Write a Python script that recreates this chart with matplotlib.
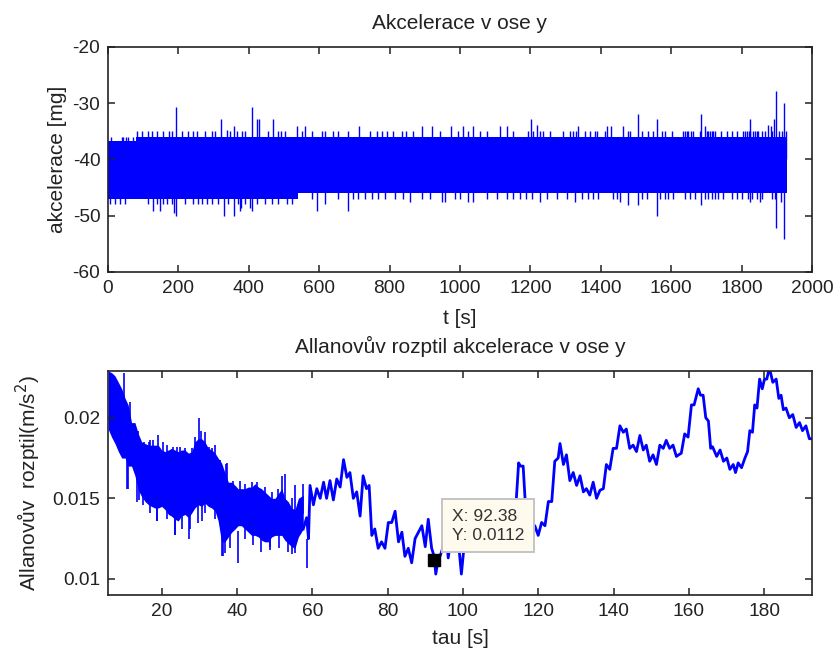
import matplotlib.pyplot as plt

plt.rcParams['font.family'] = ['Liberation Sans', 'DejaVu Sans']
plt.rcParams['axes.unicode_minus'] = False

BLUE = '#0000ff'
INK = '#222222'

# ---------------- akcelerace v ose y [mg] ----------------
# main noise band (piecewise constant envelope)
band_t = [0, 80, 540, 1928]
band_hi = [-36.7, -36.0, -36.0, -36.0]
band_lo = [-47.0, -47.0, -46.0, -46.0]

# one-step quantisation teeth on the band edges
tooth_up_early_t = [10, 39, 44, 50, 58, 72]
tooth_up_early_v = -36.0
tooth_up_t = [82, 96, 115, 124, 138, 157, 174, 181, 209, 228, 242, 254, 276, 295, 304,
              347, 366, 380, 389, 455, 484, 493, 503, 550, 579, 607, 616, 640, 654, 683,
              744, 763, 778, 792, 811, 834, 848, 867, 943, 995, 1024, 1057, 1076, 1152,
              1194, 1208, 1227, 1237, 1256, 1293, 1312, 1322, 1331, 1355, 1369, 1384,
              1389, 1412, 1478, 1483, 1516, 1535, 1549, 1573, 1583, 1601, 1635, 1640,
              1645, 1649, 1655, 1663, 1682, 1701, 1705, 1710, 1715, 1720, 1724, 1743,
              1758, 1772, 1786, 1805, 1810, 1815, 1820, 1825, 1833, 1838, 1843, 1848,
              1857, 1867, 1886, 1905, 1915, 1925]
tooth_up_v = -35.0
tooth_dn_early_t = [6, 20, 34, 48, 115, 138, 157, 167, 181, 219, 242, 266, 280, 295,
                    313, 342, 370, 389, 422, 446, 465, 484, 508, 522]
tooth_dn_early_v = -47.9
tooth_dn_t = [579, 654, 697, 711, 730, 749, 768, 787, 815, 839, 891, 915, 986, 1000,
              1076, 1104, 1133, 1152, 1170, 1189, 1204, 1246, 1275, 1303, 1346, 1365,
              1379, 1393, 1436, 1445, 1516, 1531, 1568, 1583, 1592, 1606, 1639, 1654,
              1668, 1696, 1706, 1715, 1724, 1734, 1748, 1772, 1786, 1800, 1819, 1829,
              1843, 1857, 1886, 1895]
tooth_dn_v = -47.0

# isolated spikes
spike_up_t = [193, 408, 321, 424, 429, 470, 357, 339, 537, 560, 714, 891, 920, 974,
              1009, 1038, 1113, 1133, 1202, 1218, 1336, 1419, 1428, 1464, 1507, 1561,
              1685, 1696, 1824, 1876, 1885, 1892, 1897, 1922]
spike_up_v = [-30.75, -30.75, -32.8, -32.8, -32.8, -32.8, -34.0, -34.8, -34.0, -34.0,
              -34.0, -34.0, -34.0, -34.0, -34.0, -34.0, -34.0, -34.0, -32.8, -33.8,
              -34.0, -34.0, -34.0, -34.0, -31.9, -32.8, -31.9, -34.0, -32.8, -33.9,
              -34.0, -32.8, -27.9, -30.0]
spike_dn_t = [129, 148, 188, 193, 255, 330, 359, 375, 379, 403, 408, 593, 616, 683,
              858, 948, 957, 1024, 1038, 1227, 1327, 1455, 1478, 1507, 1561, 1685,
              1824, 1852, 1897, 1911, 1922]
spike_dn_v = [-49.2, -49.2, -49.5, -50.1, -48.0, -50.1, -50.1, -49.2, -48.6, -48.6,
              -49.2, -49.2, -48.0, -49.2, -47.6, -47.6, -47.6, -47.6, -47.6, -47.6,
              -47.6, -47.6, -48.1, -48.1, -50.1, -48.1, -47.6, -47.6, -52.2, -47.6, -54.1]

t_ticks = [0, 200, 400, 600, 800, 1000, 1200, 1400, 1600, 1800, 2000]
a_ticks = [-60, -50, -40, -30, -20]

# ---------------- Allanuv rozptyl ----------------
# short tau: dense scatter, stored as envelope
tau_n = [5.8, 6.7, 7.6, 8.5, 9.4, 10.3, 11.1, 12.0, 12.9, 13.8, 14.7, 15.6, 16.5, 17.3,
         18.2, 19.1, 20.0, 20.9, 21.8, 22.6, 23.5, 24.4, 25.3, 26.2, 27.1, 28.0, 28.8,
         29.7, 30.6, 31.5, 32.4, 33.3, 34.2, 35.0, 35.9, 36.8, 37.7, 38.6, 39.5, 40.3,
         41.2, 42.1, 43.0, 43.9, 44.8, 45.7, 46.5, 47.4, 48.3, 49.2, 50.1, 51.0, 51.9,
         52.7, 53.6, 54.5, 55.4, 56.3, 57.6]
lo_n = [0.0193, 0.0188, 0.0184, 0.0179, 0.0175, 0.0175, 0.0170, 0.0170, 0.0164, 0.0155,
        0.0151, 0.0148, 0.0146, 0.0145, 0.0144, 0.0144, 0.0145, 0.0143, 0.0140, 0.0139,
        0.0137, 0.0136, 0.0139, 0.0140, 0.0138, 0.0141, 0.0144, 0.0146, 0.0145, 0.0147,
        0.0145, 0.0144, 0.0142, 0.0136, 0.0123, 0.0123, 0.0126, 0.0129, 0.0131, 0.0133,
        0.0133, 0.0131, 0.0129, 0.0127, 0.0127, 0.0126, 0.0124, 0.0123, 0.0123, 0.0126,
        0.0127, 0.0127, 0.0127, 0.0124, 0.0122, 0.0120, 0.0119, 0.0126, 0.0131]
hi_n = [0.0229, 0.0228, 0.0226, 0.0222, 0.0218, 0.0212, 0.0208, 0.0197, 0.0197, 0.0190,
        0.0185, 0.0184, 0.0183, 0.0183, 0.0183, 0.0183, 0.0180, 0.0179, 0.0180, 0.0181,
        0.0180, 0.0179, 0.0180, 0.0180, 0.0178, 0.0179, 0.0185, 0.0187, 0.0187, 0.0185,
        0.0181, 0.0180, 0.0178, 0.0175, 0.0172, 0.0166, 0.0160, 0.0160, 0.0158, 0.0156,
        0.0156, 0.0156, 0.0157, 0.0157, 0.0159, 0.0157, 0.0156, 0.0154, 0.0152, 0.0150,
        0.0150, 0.0153, 0.0156, 0.0150, 0.0148, 0.0144, 0.0143, 0.0150, 0.0152]

# single outliers sticking out of the dense part: tau, from, to
out_tau = [10.0, 10.7, 13.4, 16.9, 18.7, 19.1, 23.1, 23.5, 27.3, 28.8, 29.9, 30.4, 30.6,
           34.1, 35.9, 36.8, 37.3, 40.2, 45.3, 48.8, 52.0, 52.8, 54.7, 55.5, 57.6, 58.5,
           11.6, 13.8, 15.4, 16.7, 17.8, 20.4, 21.3, 24.0, 24.9, 26.2, 28.0, 31.5, 32.6,
           33.3, 35.5, 37.2, 39.0, 40.8, 42.1, 43.9, 47.4, 49.2, 51.0, 54.5,
           11.0, 13.9, 15.1, 17.0, 18.8, 21.4, 23.6, 25.3, 27.5, 29.7, 31.6, 34.2,
           36.4, 38.1, 42.2, 44.3, 46.5, 48.7, 51.1, 53.6, 55.4]
out_from = [0.0195, 0.0156, 0.0148, 0.0170, 0.0136, 0.0170, 0.0165, 0.0127, 0.0125,
            0.0170, 0.0170, 0.0170, 0.0136, 0.0165, 0.01145, 0.0116, 0.0150, 0.0110,
            0.0145, 0.0118, 0.0145, 0.0145, 0.01155, 0.0140, 0.0140, 0.0107,
            0.0190, 0.0175, 0.0170, 0.0170, 0.0170, 0.0170, 0.0170, 0.0170, 0.0170,
            0.0170, 0.0170, 0.0170, 0.0170, 0.0170, 0.0160, 0.0150, 0.0145, 0.0145,
            0.0145, 0.0145, 0.0140, 0.0140, 0.0140, 0.0135,
            0.0156, 0.0149, 0.0146, 0.0141, 0.0136, 0.0137, 0.0127, 0.0131, 0.0131,
            0.0135, 0.0141, 0.0137, 0.01145, 0.0119, 0.0125, 0.0121, 0.0117, 0.0120,
            0.0119, 0.0117, 0.0116]
out_to = [0.02276, 0.0180, 0.0170, 0.0186, 0.0150, 0.0189, 0.0182, 0.0140, 0.0140,
          0.0188, 0.0200, 0.0192, 0.0150, 0.0183, 0.0130, 0.0130, 0.0172, 0.0130,
          0.0160, 0.0130, 0.0164, 0.0165, 0.0125, 0.0158, 0.0159, 0.0125,
          0.0210, 0.0192, 0.0185, 0.0185, 0.0186, 0.0185, 0.0183, 0.0182, 0.0182,
          0.0181, 0.0181, 0.0191, 0.0182, 0.0181, 0.0174, 0.0171, 0.0161, 0.0161,
          0.0159, 0.0160, 0.0157, 0.0154, 0.0156, 0.0150,
          0.0175, 0.0165, 0.0160, 0.0155, 0.0150, 0.0150, 0.0145, 0.0145, 0.0145,
          0.0150, 0.0155, 0.0150, 0.0130, 0.0135, 0.0140, 0.0135, 0.0135, 0.0135,
          0.0135, 0.0135, 0.0135]

# longer tau: single wandering trace, lower / upper edge of its jitter
tau_d = [57.6, 58.5, 59.0, 59.4, 60.3, 61.2, 62.1, 63.0, 63.8, 64.7, 65.6, 66.5, 67.4,
         68.3, 69.2, 70.0, 70.9, 71.8, 72.7, 73.5, 74.4, 75.1, 75.8, 76.6, 77.5, 78.4,
         79.3, 80.2, 81.1, 82.0, 82.9, 83.8, 84.6, 85.5, 86.4, 87.3, 88.2, 89.1, 90.0,
         90.8, 91.7, 92.38, 92.8, 93.3, 94.5, 95.5, 96.1, 97.0, 98.0, 99.0, 99.6, 100.3,
         101.5, 103.0, 105.0, 107.0, 109.0, 110.5, 111.5, 113.0, 114.2, 114.8, 115.3,
         116.0, 116.5, 117.2, 118.3, 119.1, 120.0, 120.9, 121.8, 122.7, 123.6, 124.4,
         125.3, 125.8, 126.7, 127.5, 128.4, 129.3, 130.2, 131.1, 132.0, 132.8, 133.7,
         134.6, 135.5, 136.4, 137.3, 138.1, 139.0, 139.9, 140.8, 141.7, 142.6, 143.4,
         144.3, 145.2, 146.1, 147.0, 147.9, 148.7, 149.6, 150.5, 151.4, 152.3, 153.2,
         154.0, 154.9, 155.8, 156.7, 157.3, 158.0, 158.9, 159.8, 160.7, 161.4, 162.5,
         163.1, 163.8, 164.5, 165.2, 165.8, 166.3, 167.4, 168.3, 169.2, 170.1, 170.9,
         171.8, 172.4, 173.1, 174.0, 174.9, 175.6, 176.2, 176.9, 177.5, 178.1, 178.8,
         179.5, 180.1, 180.7, 181.4, 182.3, 183.2, 183.9, 184.5, 185.1, 185.8, 186.7,
         187.6, 188.5, 189.4, 190.2, 191.1, 192.0, 192.7]
lo_d = [0.0131, 0.0122, 0.0125, 0.0141, 0.0146, 0.0148, 0.0150, 0.0152, 0.0150, 0.0151,
        0.0149, 0.0150, 0.0157, 0.0166, 0.0163, 0.0156, 0.0150, 0.0144, 0.0139, 0.0155,
        0.0156, 0.0143, 0.0127, 0.0121, 0.0119, 0.0112, 0.0119, 0.0128, 0.0135, 0.0129,
        0.0123, 0.0118, 0.0114, 0.0112, 0.0110, 0.0114, 0.0129, 0.0123, 0.0120, 0.0125,
        0.0119, 0.0110, 0.0103, 0.0104, 0.0118, 0.0120, 0.0113, 0.0118, 0.0120, 0.0108,
        0.0103, 0.0110, 0.0120, 0.0125, 0.0122, 0.0125, 0.0120, 0.0114, 0.0120, 0.0130,
        0.0150, 0.0165, 0.0170, 0.0162, 0.0150, 0.0135, 0.0125, 0.0125, 0.0127, 0.0129,
        0.0133, 0.0139, 0.0148, 0.0162, 0.0175, 0.0178, 0.0171, 0.0168, 0.0161, 0.0159,
        0.0158, 0.0157, 0.0154, 0.0150, 0.0152, 0.0154, 0.0150, 0.0150, 0.0156, 0.0164,
        0.0168, 0.0173, 0.0181, 0.0187, 0.0191, 0.0187, 0.0181, 0.0178, 0.0179, 0.0183,
        0.0180, 0.0177, 0.0173, 0.0173, 0.0171, 0.0175, 0.0181, 0.0182, 0.0181, 0.0178,
        0.0176, 0.0171, 0.0178, 0.0184, 0.0188, 0.0198, 0.0208, 0.0212, 0.0214, 0.0208,
        0.0200, 0.0191, 0.0181, 0.0178, 0.0176, 0.0175, 0.0173, 0.0171, 0.0168, 0.0167,
        0.0166, 0.0167, 0.0169, 0.0172, 0.0179, 0.0185, 0.0191, 0.0200, 0.0206, 0.0216,
        0.0218, 0.0218, 0.0224, 0.0227, 0.0222, 0.0218, 0.0212, 0.0208, 0.0205, 0.0202,
        0.0200, 0.0197, 0.0194, 0.0193, 0.0192, 0.0190, 0.0187, 0.0183]
hi_d = [0.0152, 0.0138, 0.0140, 0.0158, 0.0156, 0.0156, 0.0160, 0.0160, 0.0162, 0.0161,
        0.0158, 0.0162, 0.0167, 0.0174, 0.0170, 0.0166, 0.0160, 0.0154, 0.0150, 0.0164,
        0.0167, 0.0158, 0.0139, 0.0131, 0.0127, 0.0123, 0.0127, 0.0135, 0.0149, 0.0142,
        0.0133, 0.0129, 0.0125, 0.0119, 0.0117, 0.0125, 0.0142, 0.0133, 0.0128, 0.0137,
        0.0127, 0.0114, 0.0107, 0.0110, 0.0128, 0.0130, 0.0120, 0.0128, 0.0130, 0.0118,
        0.0110, 0.0120, 0.0130, 0.0135, 0.0132, 0.0135, 0.0130, 0.0120, 0.0128, 0.0140,
        0.0158, 0.0172, 0.0175, 0.0170, 0.0160, 0.0145, 0.0133, 0.0133, 0.0135, 0.0135,
        0.0141, 0.0148, 0.0158, 0.0173, 0.0183, 0.0184, 0.0179, 0.0177, 0.0166, 0.0166,
        0.0164, 0.0164, 0.0160, 0.0156, 0.0158, 0.0160, 0.0156, 0.0155, 0.0164, 0.0171,
        0.0175, 0.0181, 0.0187, 0.0195, 0.0197, 0.0193, 0.0188, 0.0183, 0.0183, 0.0189,
        0.0188, 0.0183, 0.0179, 0.0177, 0.0175, 0.0183, 0.0186, 0.0186, 0.0185, 0.0183,
        0.0180, 0.0177, 0.0184, 0.0190, 0.0195, 0.0208, 0.0216, 0.0218, 0.0219, 0.0214,
        0.0210, 0.0198, 0.0191, 0.0182, 0.0181, 0.0180, 0.0177, 0.0175, 0.0173, 0.0171,
        0.0169, 0.0172, 0.0174, 0.0175, 0.0185, 0.0192, 0.0200, 0.0208, 0.0214, 0.0224,
        0.0228, 0.0224, 0.0229, 0.0231, 0.0229, 0.0224, 0.0220, 0.0214, 0.0210, 0.0206,
        0.0205, 0.0202, 0.0199, 0.0197, 0.0197, 0.0195, 0.0191, 0.0187]

tip_x = 92.38
tip_y = 0.0112

tau_ticks = [20, 40, 60, 80, 100, 120, 140, 160, 180]
s_ticks = [0.01, 0.015, 0.02]
s_labels = ['0.01', '0.015', '0.02']


def style(ax):
    ax.tick_params(direction='in', top=True, right=True, length=5, width=1.1,
                   labelsize=13.8, pad=5.5, colors=INK)
    for sp in ax.spines.values():
        sp.set_linewidth(1.2)
        sp.set_color(INK)


fig = plt.figure(figsize=(8.35, 6.53), dpi=100)

# top: raw acceleration
ax1 = fig.add_axes([0.1293, 0.5835, 0.8431, 0.3446])
ax1.fill_between(band_t, band_lo, band_hi, step='post', color=BLUE, lw=0)
ax1.vlines(tooth_up_early_t, -40, tooth_up_early_v, color=BLUE, lw=1)
ax1.vlines(tooth_up_t, -40, tooth_up_v, color=BLUE, lw=1)
ax1.vlines(tooth_dn_early_t, -40, tooth_dn_early_v, color=BLUE, lw=1)
ax1.vlines(tooth_dn_t, -40, tooth_dn_v, color=BLUE, lw=1)
ax1.vlines(spike_up_t, -40, spike_up_v, color=BLUE, lw=1)
ax1.vlines(spike_dn_t, -40, spike_dn_v, color=BLUE, lw=1)
ax1.set_xlim(0, 2000)
ax1.set_ylim(-60, -20)
ax1.set_xticks(t_ticks)
ax1.set_yticks(a_ticks)
style(ax1)
ax1.set_title('Akcelerace v ose y', fontsize=15, color=INK, pad=13)
ax1.set_xlabel('t [s]', fontsize=15, color=INK, labelpad=9)
ax1.set_ylabel('akcelerace [mg]', fontsize=15, color=INK, labelpad=4)

# bottom: Allan variance
ax2 = fig.add_axes([0.1293, 0.0888, 0.8431, 0.343])
ax2.fill_between(tau_n, lo_n, hi_n, color=BLUE, lw=0)
ax2.vlines(out_tau, out_from, out_to, color=BLUE, lw=1.2)
# jitter of the long-tau trace: alternate between lower and upper edge
zig_d = [lo if i % 2 == 0 else hi for i, (lo, hi) in enumerate(zip(lo_d, hi_d))]
ax2.plot(tau_d, zig_d, color=BLUE, lw=2.0)
ax2.set_xlim(5.74, 192.7)
ax2.set_ylim(0.0090, 0.0229)
ax2.set_xticks(tau_ticks)
ax2.set_yticks(s_ticks)
ax2.set_yticklabels(s_labels)
style(ax2)
ax2.set_title('Allanovův rozptil akcelerace v ose y', fontsize=15, color=INK, pad=13)
ax2.set_xlabel('tau [s]', fontsize=15, color=INK, labelpad=7)
ax2.set_ylabel('Allanovův  rozptil(m/s$^2$)', fontsize=15, color=INK, labelpad=7)

# data tip
ax2.plot([tip_x], [tip_y], 's', ms=9, color='black', zorder=9)
ax2.annotate('X: %.2f\nY: %.4f' % (tip_x, tip_y), xy=(tip_x, tip_y),
             xytext=(12.9, 12.2), textcoords='offset points', ha='left', va='bottom',
             fontsize=12.6, color='#333333', linespacing=1.3, zorder=10,
             bbox=dict(boxstyle='square,pad=0.55', fc='#fffaee', ec='#c4c4c4', lw=1.4))

fig.savefig('out.png', dpi=100)
